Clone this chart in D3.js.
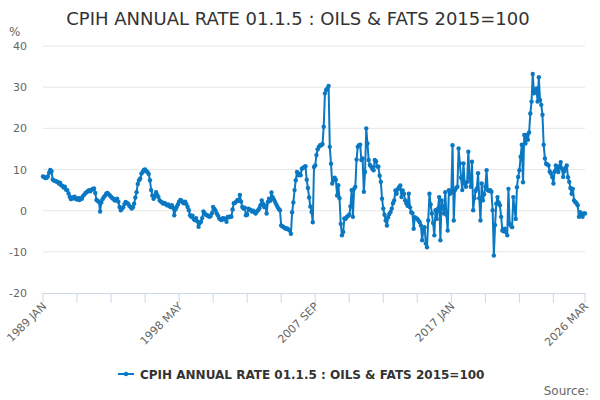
<!DOCTYPE html>
<html>
<head>
<meta charset="utf-8">
<script src="https://cdn.jsdelivr.net/npm/d3@7/dist/d3.min.js"></script>
<style>
  body { margin: 0; background: #fff; }
  svg { font-family: "DejaVu Sans", sans-serif; }
</style>
</head>
<body>
<svg id="chart" width="600" height="400"></svg>
<script>
var titleText = "CPIH ANNUAL RATE 01.1.5 : OILS & FATS 2015=100"
var firstYear = 1989
var monthNames = ["JAN","FEB","MAR","APR","MAY","JUN","JUL","AUG","SEP","OCT","NOV","DEC"]

// annual rate %, monthly, 1989 JAN .. 2026 MAR
var values = [
  8.3,8.2,7.9,8.0,8.3,9.2,9.9,9.6,7.6,7.3,7.2,7.1,
  7.0,6.6,6.8,6.2,6.0,5.6,5.8,5.1,5.0,4.2,3.4,2.8,
  3.2,3.0,3.4,2.9,2.7,3.0,2.6,3.0,2.9,3.6,3.9,4.3,
  4.5,4.8,5.0,4.7,5.1,5.3,5.4,4.3,2.6,2.4,2.1,-0.2,
  2.0,2.8,3.3,3.6,4.1,4.3,4.0,3.7,3.4,3.0,2.9,2.5,
  2.5,2.9,2.2,0.9,0.1,0.5,0.8,1.6,2.1,1.9,1.7,1.2,
  0.9,0.5,0.8,1.7,3.2,4.5,6.5,7.4,7.8,9.0,9.4,9.9,
  10.0,9.6,9.4,8.9,7.4,5.0,3.7,2.9,3.5,4.5,3.8,3.3,
  2.5,2.2,2.0,1.7,1.9,1.6,1.3,1.5,1.1,0.9,1.3,0.7,
  -1.1,0.3,0.9,1.5,2.2,2.6,2.4,2.0,1.8,2.2,1.6,0.9,
  0.1,-1.1,-1.5,-1.2,-2.0,-2.3,-1.8,-2.6,-3.9,-3.0,-2.7,-1.8,
  -0.2,-0.6,-1.0,-1.1,-1.3,-1.5,-1.3,-0.6,0.9,0.4,0.0,-0.7,
  -1.2,-1.9,-2.1,-2.3,-1.8,-1.9,-2.0,-2.7,-1.5,-1.6,-1.4,-1.5,
  0.3,1.8,1.9,2.2,2.6,2.4,3.8,2.2,0.9,0.5,0.7,-1.1,
  -1.0,0.5,0.3,0.1,-0.2,0.0,-0.4,-0.7,-0.2,0.1,0.6,1.3,
  2.5,1.7,0.9,1.2,-0.7,2.1,2.9,2.4,4.4,3.3,2.7,2.1,
  1.5,0.9,0.4,0.1,-3.6,-3.8,-4.0,-4.2,-4.4,-4.3,-4.6,-4.8,
  -5.6,-0.4,2.0,5.0,7.4,9.4,8.6,9.0,8.6,10.2,10.4,10.6,
  10.8,7.5,5.5,3.2,1.0,-0.3,-2.8,10.6,11.0,13.5,14.9,15.5,
  15.9,15.9,16.2,20.4,28.5,29.3,29.7,30.3,15.5,11.4,6.6,7.4,
  8.0,7.5,3.7,6.2,3.0,-3.2,-6.0,-5.2,-1.9,-2.0,-1.5,-1.3,
  -1.0,1.0,5.0,-1.5,5.3,5.8,12.4,15.5,15.9,16.0,12.3,12.7,
  4.6,9.4,20.0,16.3,12.3,11.1,10.7,10.2,9.8,12.3,12.0,10.7,
  10.7,8.5,7.0,2.9,0.5,-1.0,-2.4,-3.6,-1.6,-0.8,-0.3,0.5,
  1.8,2.5,4.9,4.1,5.2,5.7,6.1,3.3,4.9,4.1,2.5,1.8,
  1.2,4.1,0.8,-0.4,-0.6,-4.4,-1.6,-1.8,-2.0,-2.4,-2.8,-3.6,
  -7.2,-4.6,-4.0,-8.0,-8.9,-2.4,4.1,1.5,-0.7,-3.0,-6.0,0.1,
  -2.0,0.5,3.3,-7.2,2.5,1.0,-0.7,4.5,-1.0,-4.8,5.0,4.1,
  4.5,15.9,-2.4,5.0,5.5,5.8,15.1,11.5,8.0,5.0,11.5,6.6,
  5.8,7.0,14.3,8.0,5.8,11.9,0.1,3.0,4.8,5.4,9.1,3.0,
  -2.4,6.6,2.5,4.0,5.8,9.8,5.0,4.8,5.0,4.6,0.1,-10.9,
  -3.5,1.7,3.3,2.0,1.3,-1.5,-4.8,-5.0,-4.4,-5.2,-6.0,5.3,
  -3.2,-3.6,-4.0,3.3,0.5,-2.0,5.7,8.2,9.8,13.1,16.0,6.9,
  18.4,16.3,18.4,17.2,19.0,23.6,26.5,33.2,28.5,29.0,29.7,26.5,
  32.4,26.9,25.7,23.3,16.0,12.7,11.4,11.2,11.0,9.5,9.0,8.2,
  6.6,9.5,11.0,10.2,9.4,10.8,11.8,10.2,8.2,9.6,10.4,11.0,
  8.1,7.0,5.5,4.1,5.3,2.5,2.1,1.8,1.3,-1.5,-0.4,-0.9,
  -1.5,-0.7,-0.7
]

var months = values.map(function(d, i) {
  return (firstYear + Math.floor(i / 12)) + " " + monthNames[i % 12]
})

var yTicks = [-20, -10, 0, 10, 20, 30, 40]
var xTickIdx = [0, 28, 56, 84, 112, 140, 168, 196, 224, 252, 280, 308, 336, 364, 392, 420, 446]
var xLabelIdx = [0, 112, 224, 336, 446]

var lineColor = "#0a78c2"

var svg = d3.select("#chart")

var x = d3.scaleLinear()
  .domain([0, values.length - 1])
  .range([43, 585])

var y = d3.scaleLinear()
  .domain([-20, 40])
  .range([293, 46])

svg.append("text")
  .attr("x", 298)
  .attr("y", 25)
  .attr("text-anchor", "middle")
  .style("font-size", "18px")
  .style("fill", "#333")
  .text(titleText)

svg.append("text")
  .attr("x", 9)
  .attr("y", 36)
  .style("font-size", "12px")
  .style("fill", "#666")
  .text("%")

// grid + y labels
svg.selectAll(".grid")
  .data(yTicks.filter(function(d){ return d != -20 }))
  .enter()
  .append("line")
  .attr("class", "grid")
  .attr("x1", 43)
  .attr("x2", 585)
  .attr("y1", function(d){ return y(d) })
  .attr("y2", function(d){ return y(d) })
  .style("stroke", "#e6e6e6")

svg.selectAll(".ylab")
  .data(yTicks)
  .enter()
  .append("text")
  .attr("class", "ylab")
  .attr("x", 27)
  .attr("y", function(d){ return y(d) + 4 })
  .attr("text-anchor", "end")
  .style("font-size", "11px")
  .style("fill", "#666")
  .text(function(d){ return d })

// x axis
svg.append("line")
  .attr("x1", 43)
  .attr("x2", 585)
  .attr("y1", y(-20) + 0.5)
  .attr("y2", y(-20) + 0.5)
  .style("stroke", "#ccd6eb")

svg.selectAll(".xtick")
  .data(xTickIdx)
  .enter()
  .append("line")
  .attr("class", "xtick")
  .attr("x1", function(d){ return x(d) })
  .attr("x2", function(d){ return x(d) })
  .attr("y1", y(-20))
  .attr("y2", y(-20) + 10)
  .style("stroke", "#ccd6eb")

svg.selectAll(".xlab")
  .data(xLabelIdx)
  .enter()
  .append("text")
  .attr("class", "xlab")
  .attr("text-anchor", "end")
  .attr("transform", function(d){ return "translate(" + (x(d) + 4) + "," + (y(-20) + 14) + ") rotate(-45)" })
  .style("font-size", "11px")
  .style("fill", "#666")
  .text(function(d){ return months[d] })

// series
var line = d3.line()
  .x(function(d, i){ return x(i) })
  .y(function(d){ return y(d) })

svg.append("path")
  .datum(values)
  .attr("d", line)
  .style("fill", "none")
  .style("stroke", lineColor)
  .style("stroke-width", 2)
  .style("stroke-linejoin", "round")

svg.selectAll(".dot")
  .data(values)
  .enter()
  .append("circle")
  .attr("class", "dot")
  .attr("cx", function(d, i){ return x(i) })
  .attr("cy", function(d){ return y(d) })
  .attr("r", 2.2)
  .style("fill", lineColor)

// legend
var legend = svg.append("g")
  .attr("transform", "translate(118,374)")

legend.append("line")
  .attr("x1", 0)
  .attr("x2", 16)
  .style("stroke", lineColor)
  .style("stroke-width", 2)

legend.append("circle")
  .attr("cx", 8)
  .attr("r", 2.2)
  .style("fill", lineColor)

legend.append("text")
  .attr("x", 22)
  .attr("y", 4.5)
  .style("font-size", "12px")
  .style("font-weight", "bold")
  .style("fill", "#333")
  .text(titleText)

svg.append("text")
  .attr("x", 589)
  .attr("y", 395)
  .attr("text-anchor", "end")
  .style("font-size", "12px")
  .style("fill", "#666")
  .text("Source:")
</script>
</body>
</html>
